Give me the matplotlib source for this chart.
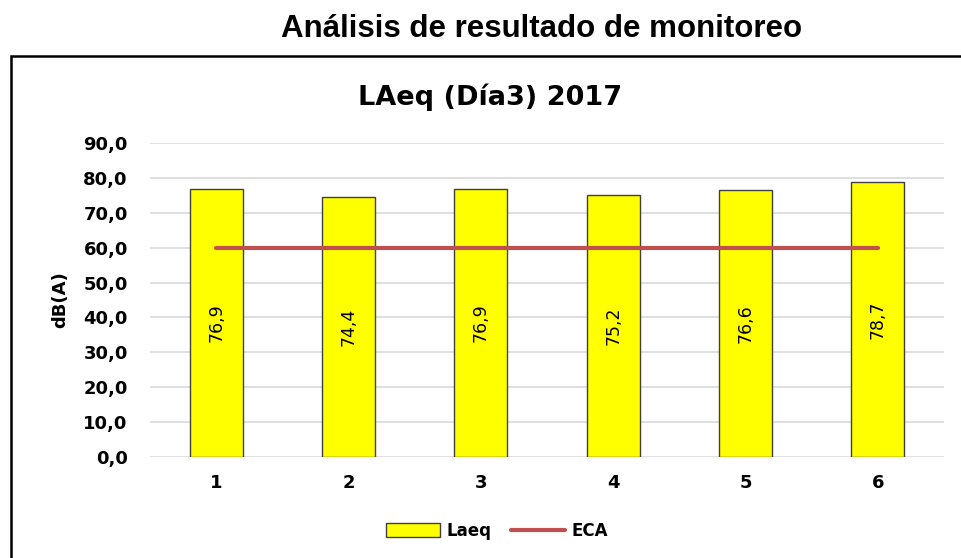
import matplotlib
matplotlib.use("Agg")
import matplotlib.pyplot as plt
from matplotlib.patches import Rectangle
from matplotlib.lines import Line2D

# datos
puntos = ["1", "2", "3", "4", "5", "6"]
laeq = [76.9, 74.4, 76.9, 75.2, 76.6, 78.7]
eca = [60, 60, 60, 60, 60, 60]
yticks = [0, 10, 20, 30, 40, 50, 60, 70, 80, 90]

W, H = 962, 558
fig = plt.figure(figsize=(W / 100, H / 100), dpi=100)

# marco del grafico
fig.patches.append(Rectangle((11 / W, -0.1), 1.2, 1.1 - 56 / H, transform=fig.transFigure,
                             fill=False, edgecolor="black", linewidth=1.8))

fig.text(542 / W, 1 - 29 / H, "Análisis de resultado de monitoreo", ha="center", va="center",
         fontsize=22.5, fontweight="bold", family="Liberation Sans")

# titulo del grafico, centrado en el marco
fig.text(490 / W, 1 - 97 / H, "LAeq (Día3) 2017", ha="center", va="center",
         fontsize=19.5, fontweight="bold")

ax = fig.add_axes([150 / W, 1 - 457 / H, (944 - 150) / W, (457 - 143) / H])
x = range(len(puntos))
ax.bar(x, laeq, width=0.4, color="#FFFF00", edgecolor="#404040", linewidth=1.0, zorder=2, label="Laeq")
ax.plot(x, eca, color="#C0504D", linewidth=3, solid_capstyle="round", zorder=3, label="ECA")

for i, v in enumerate(laeq):
    ax.text(i, v / 2, f"{v:.1f}".replace(".", ","), rotation=90, ha="center", va="center",
            fontsize=12.5, color="black", zorder=4)

ax.set_xlim(-0.5, len(puntos) - 0.5)
ax.set_ylim(0, 90)
ax.set_yticks(yticks)
ax.set_yticklabels([f"{t:.1f}".replace(".", ",") for t in yticks], fontsize=13, fontweight="bold")
ax.set_xticks(list(x))
ax.set_xticklabels(puntos, fontsize=13, fontweight="bold")
ax.tick_params(axis="y", length=0, pad=16)
ax.tick_params(axis="x", length=0, pad=12)
ax.grid(axis="y", color="#D9D9D9", linewidth=1.2, zorder=0)
for s in ax.spines.values():
    s.set_visible(False)
ax.set_ylabel("dB(A)", fontsize=13, fontweight="bold", labelpad=10)

handles = [Rectangle((0, 0), 1, 1, facecolor="#FFFF00", edgecolor="#404040"),
           Line2D([0], [0], color="#C0504D", linewidth=3, solid_capstyle="round")]
fig.legend(handles, ["Laeq", "ECA"], loc="center", bbox_to_anchor=(497 / W, 1 - 531 / H), ncol=2,
           frameon=False, prop={"weight": "bold", "size": 12}, handlelength=3.2, handleheight=0.9,
           columnspacing=1.2, handletextpad=0.4)

fig.savefig("out.png", dpi=100)
